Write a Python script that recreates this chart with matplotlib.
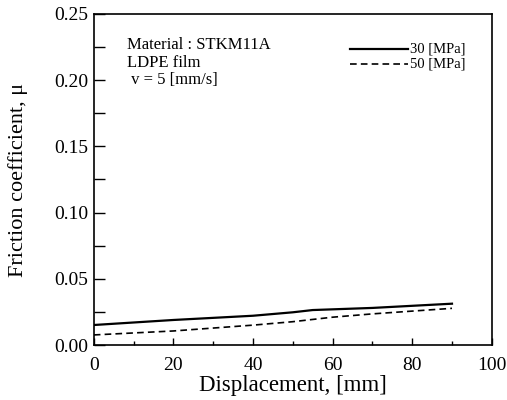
import matplotlib
matplotlib.use("Agg")
import matplotlib.pyplot as plt
from matplotlib.ticker import MultipleLocator

plt.rcParams["font.family"] = ["Liberation Serif", "DejaVu Serif"]

# valores
disp_30 = [0, 20, 40, 50, 55, 70, 90]
mu_30 = [0.0151, 0.0189, 0.0221, 0.0247, 0.0264, 0.0280, 0.0312]
disp_50 = [0, 20, 40, 50, 60, 70, 90]
mu_50 = [0.0076, 0.0106, 0.0150, 0.0176, 0.0210, 0.0235, 0.0277]

fig = plt.figure(figsize=(5.07, 4.0), dpi=100)
ax = fig.add_axes([0.185, 0.1375, 0.785, 0.8275])

ax.plot(disp_30, mu_30, color="black", lw=1.6, ls="-")
ax.plot(disp_50, mu_50, color="black", lw=1.2, ls=(0, (4, 2.5)))

ax.set_xlim(0, 100)
ax.set_ylim(0, 0.25)
ax.xaxis.set_major_locator(MultipleLocator(20))
ax.xaxis.set_minor_locator(MultipleLocator(10))
ax.yaxis.set_major_locator(MultipleLocator(0.05))
ax.yaxis.set_minor_locator(MultipleLocator(0.025))
ax.yaxis.set_major_formatter(plt.FuncFormatter(lambda v, p: f"{v:.2f}"))
ax.tick_params(which="both", direction="in", top=False, right=False,
               labelsize=14, width=1.0)
ax.tick_params(axis="x", which="both", pad=9)
ax.tick_params(axis="x", which="major", length=5)
ax.tick_params(axis="x", which="minor", length=3)
ax.tick_params(axis="y", which="both", length=8, pad=4)
for s in ax.spines.values():
    s.set_linewidth(1.2)

ax.set_xlabel("Displacement, [mm]", fontsize=16.5, labelpad=0)
ax.set_ylabel("Friction coefficient, \u03bc", fontsize=16, labelpad=19)

ax.text(8.3, 0.2266, "Material : STKM11A", fontsize=12, va="center")
ax.text(8.3, 0.2130, "LDPE film", fontsize=12, va="center")
ax.text(8.3, 0.2000, " v = 5 [mm/s]", fontsize=12, va="center")

# leyenda dibujada a mano, como en el original
ax.plot([64.3, 78.9], [0.2236, 0.2236], color="black", lw=1.6)
ax.plot([64.3, 78.9], [0.2119, 0.2119], color="black", lw=1.2, ls=(0, (4, 2.5)))
ax.text(79.4, 0.2236, "30 [MPa]", fontsize=10.5, va="center")
ax.text(79.4, 0.2119, "50 [MPa]", fontsize=10.5, va="center")

fig.savefig("out.png", dpi=100)
